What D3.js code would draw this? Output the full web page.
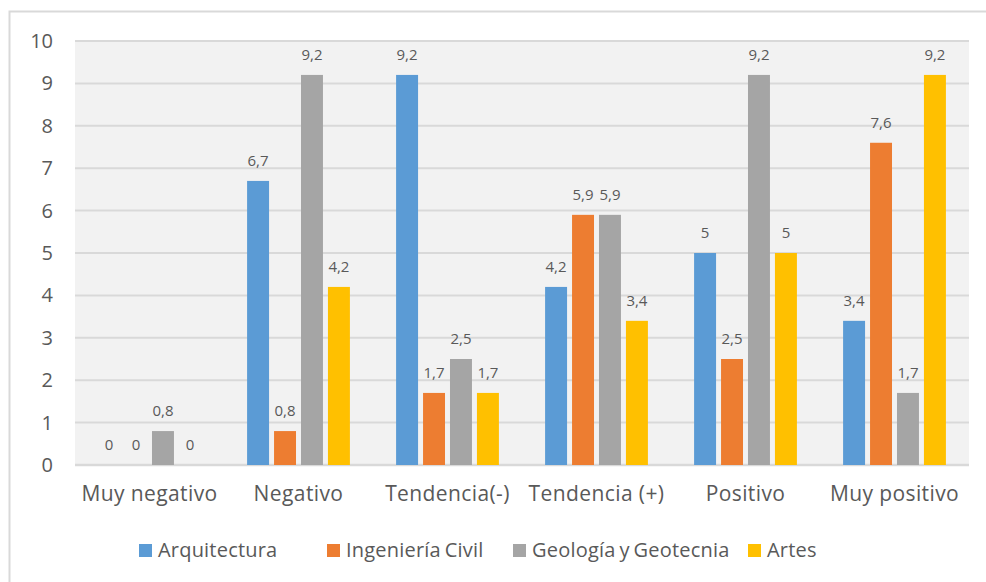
<!DOCTYPE html>
<html>
<head>
<meta charset="utf-8">
<title>Chart</title>
<script src="https://cdn.jsdelivr.net/npm/d3@7"></script>
<style>
  html, body { margin: 0; background: #fff; }
  svg text { font-family: "Open Sans", "Liberation Sans", sans-serif; fill: #595959; }
</style>
</head>
<body>
<svg width="986" height="582"></svg>
<script>
var categories = ["Muy negativo", "Negativo", "Tendencia(-)", "Tendencia (+)", "Positivo", "Muy positivo"];
var seriesNames = ["Arquitectura", "Ingeniería Civil", "Geología y Geotecnia", "Artes"];
var arquitectura = [0, 6.7, 9.2, 4.2, 5, 3.4];
var ingenieria = [0, 0.8, 1.7, 5.9, 2.5, 7.6];
var geologia = [0.8, 9.2, 2.5, 5.9, 9.2, 1.7];
var artes = [0, 4.2, 1.7, 3.4, 5, 9.2];
var yTicks = [0, 1, 2, 3, 4, 5, 6, 7, 8, 9, 10];
var colors = ["#5b9bd5", "#ed7d31", "#a5a5a5", "#ffc000"];

var allSeries = [arquitectura, ingenieria, geologia, artes];

var svg = d3.select("svg");

// outer chart border (only left/top edges visible in frame)
svg.append("rect")
    .attr("x", 9.5).attr("y", 11.5)
    .attr("width", 1000).attr("height", 600)
    .attr("fill", "#fff")
    .attr("stroke", "#d9d9d9")
    .attr("stroke-width", 2);

var margin = {left: 75, right: 17, top: 41, bottom: 117};
var width = 986 - margin.left - margin.right,
    height = 582 - margin.top - margin.bottom;

var g = svg.append("g").attr("transform", "translate(" + margin.left + "," + margin.top + ")");

var x0 = d3.scaleBand().domain(categories).range([0, width])
    .paddingInner(0.31).paddingOuter(0.155);
var x1 = d3.scaleBand().domain(d3.range(4)).range([0, x0.bandwidth()]).paddingInner(0.185);
var y = d3.scaleLinear().domain([0, 10]).range([height, 0]);

// plot background
g.append("rect")
    .attr("width", width).attr("height", height)
    .attr("fill", "#f2f2f2");

// gridlines
g.append("g")
    .selectAll("line")
    .data(yTicks)
    .enter().append("line")
    .attr("x1", 0).attr("x2", width)
    .attr("y1", function(d) { return y(d); })
    .attr("y2", function(d) { return y(d); })
    .attr("stroke", "#d9d9d9")
    .attr("stroke-width", function(d) { return d === 0 ? 2.5 : 2; });

// y axis
var yAxis = g.append("g")
    .call(d3.axisLeft(y).tickValues(yTicks).tickSize(0).tickPadding(22));
yAxis.select(".domain").remove();
yAxis.selectAll("text")
    .style("font-size", "20px")
    .attr("fill", "#595959");

// x axis
var xAxis = g.append("g")
    .attr("transform", "translate(0," + height + ")")
    .call(d3.axisBottom(x0).tickSize(0).tickPadding(21));
xAxis.select(".domain").remove();
xAxis.selectAll("text")
    .style("font-size", "21px")
    .style("letter-spacing", "0.4px")
    .attr("fill", "#595959");

// bars
var groups = g.selectAll(".grp")
    .data(categories)
    .enter().append("g")
    .attr("class", "grp")
    .attr("transform", function(d) { return "translate(" + x0(d) + ",0)"; });

groups.selectAll("rect")
    .data(function(c, i) { return allSeries.map(function(s, k) { return {k: k, v: s[i]}; }); })
    .enter().append("rect")
    .attr("x", function(d) { return x1(d.k); })
    .attr("y", function(d) { return y(d.v); })
    .attr("width", x1.bandwidth())
    .attr("height", function(d) { return height - y(d.v); })
    .attr("fill", function(d) { return colors[d.k]; });

groups.selectAll(".lbl")
    .data(function(c, i) { return allSeries.map(function(s, k) { return {k: k, v: s[i]}; }); })
    .enter().append("text")
    .attr("class", "lbl")
    .attr("x", function(d) { return x1(d.k) + x1.bandwidth() / 2; })
    .attr("y", function(d) { return y(d.v) - 15; })
    .attr("text-anchor", "middle")
    .style("font-size", "15px")
    .text(function(d) { return String(d.v).replace(".", ","); });

// legend
var legendX = [139, 327, 513, 748];
var legend = svg.append("g")
    .selectAll("g")
    .data(seriesNames)
    .enter().append("g")
    .attr("transform", function(d, i) { return "translate(" + legendX[i] + ",544)"; });
legend.append("rect")
    .attr("width", 13).attr("height", 13)
    .attr("fill", function(d, i) { return colors[i]; });
legend.append("text")
    .attr("x", 19).attr("y", 13)
    .style("font-size", "20px")
    .style("letter-spacing", "0.2px")
    .style("word-spacing", "-1.5px")
    .text(function(d) { return d; });
</script>
</body>
</html>
